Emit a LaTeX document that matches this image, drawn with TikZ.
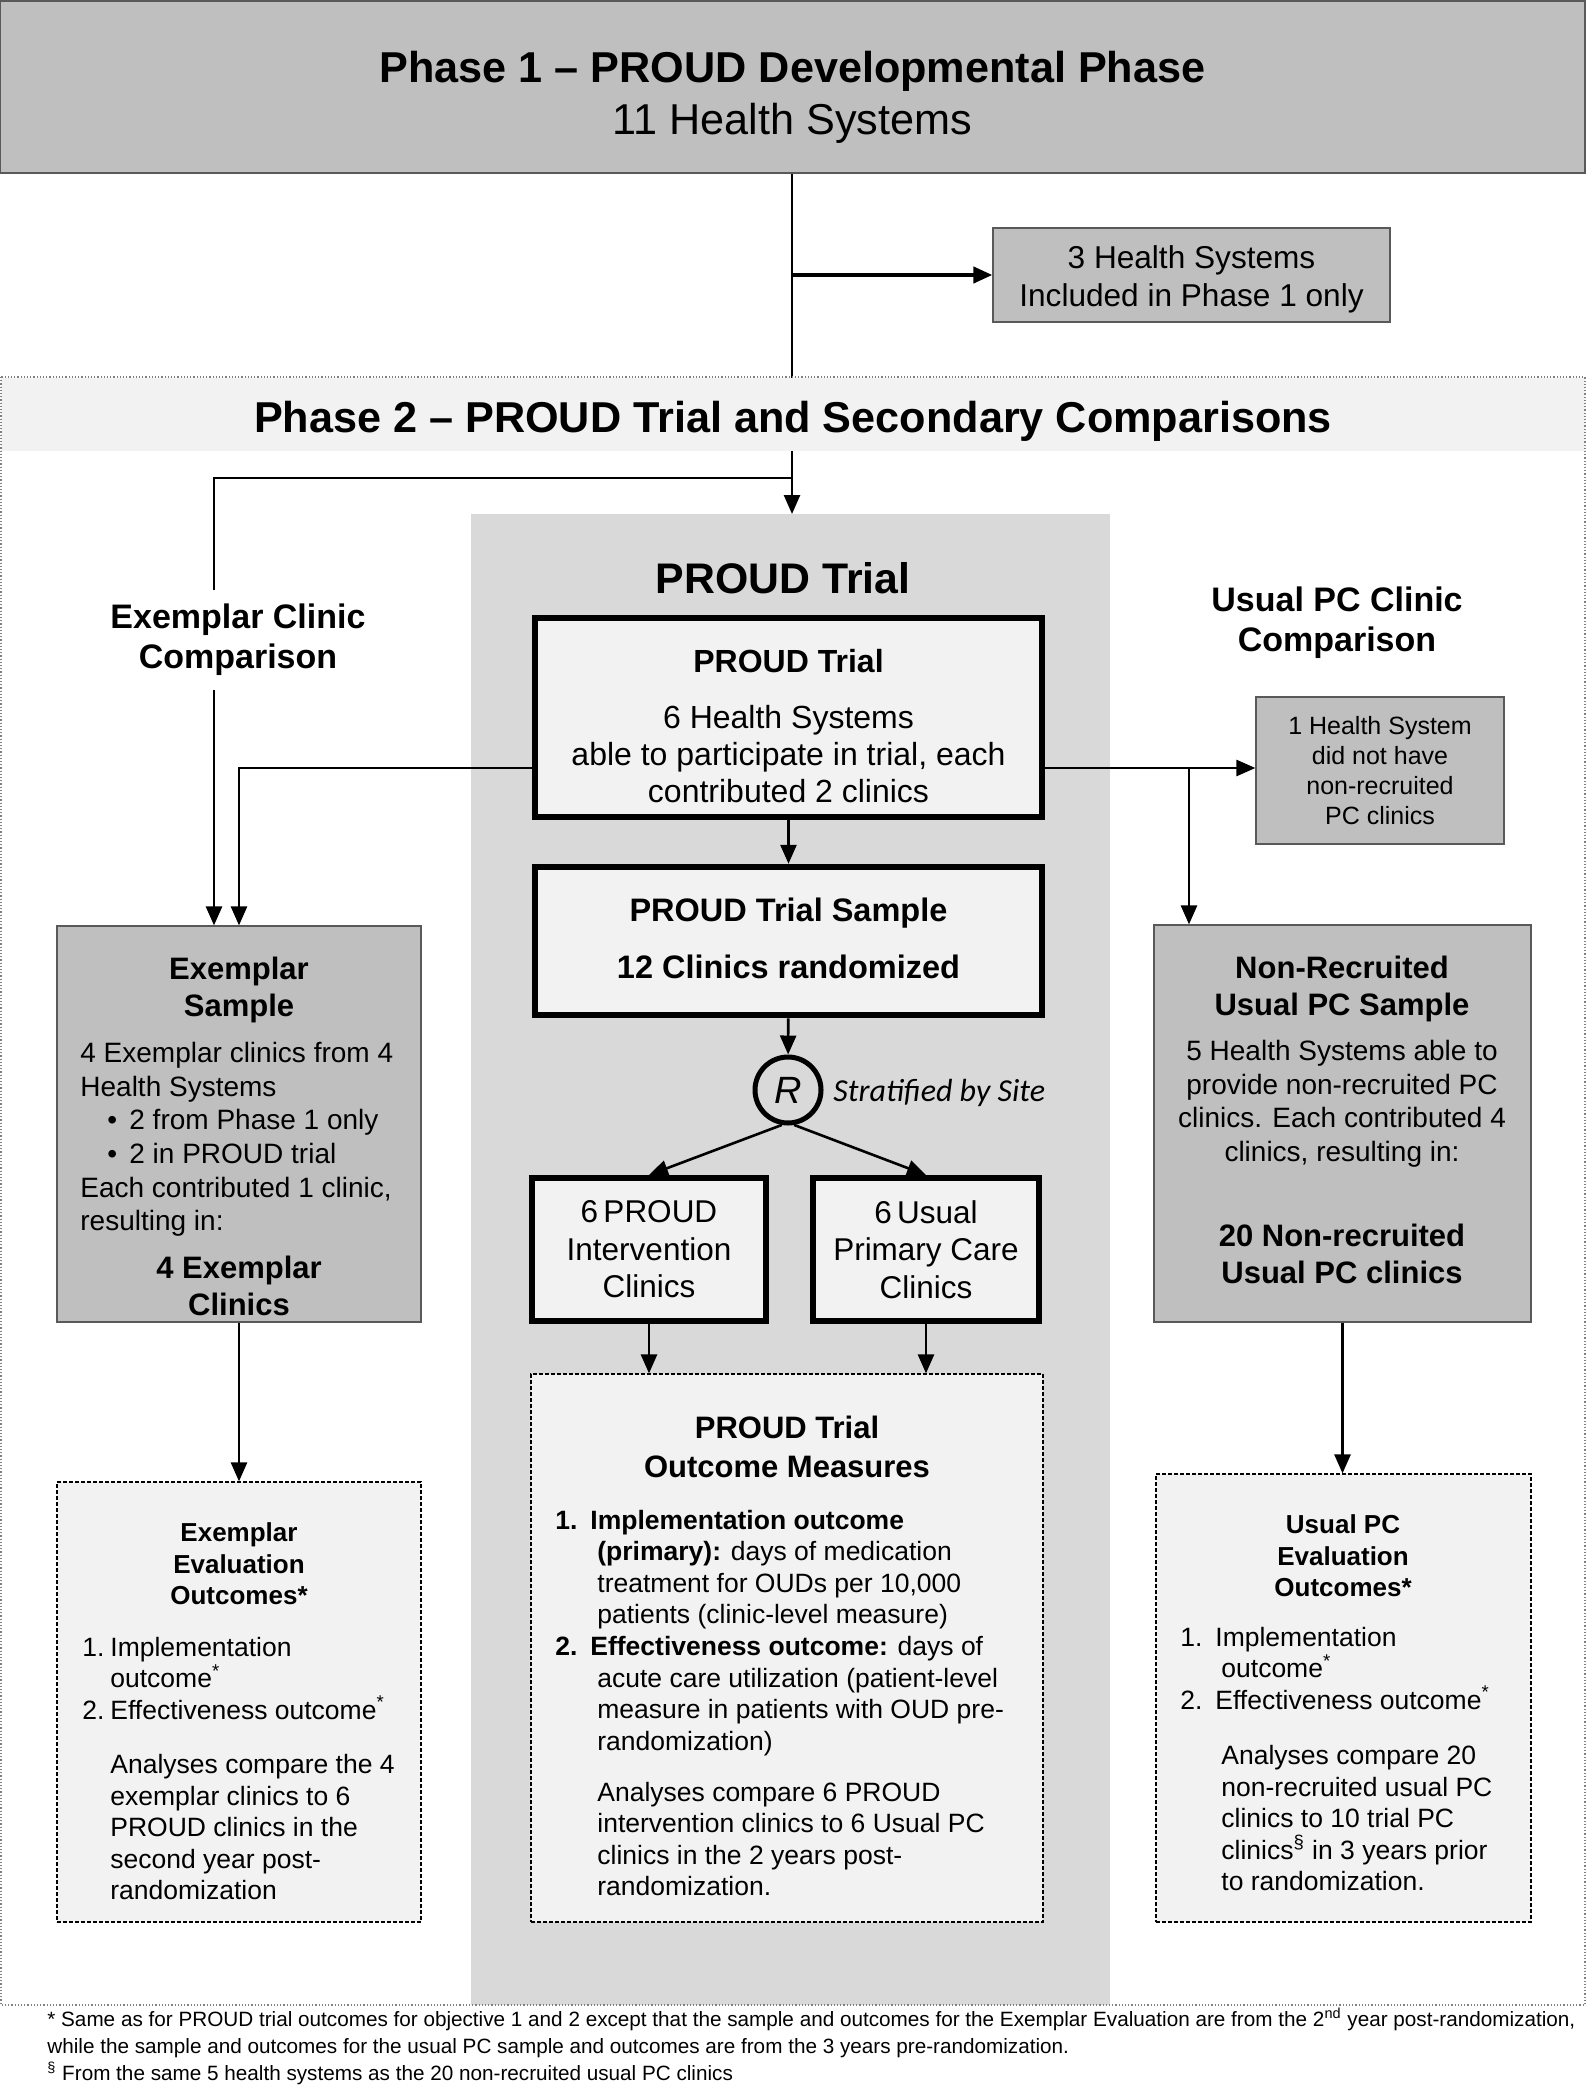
\documentclass[tikz,border=0pt]{standalone}
\usepackage{fontspec}
\setmainfont{Liberation Sans}
\newfontfamily\calibri{Carlito}
\usetikzlibrary{arrows.meta,positioning}
\definecolor{boxgray}{HTML}{BFBFBF}
\definecolor{paper}{HTML}{F2F2F2}
\definecolor{trialgray}{HTML}{D9D9D9}
\definecolor{edgegray}{HTML}{595959}
\newcommand{\fsz}[2]{\fontsize{#1}{#2}\selectfont}

\begin{document}
\begin{tikzpicture}[x=0.5pt,y=-0.5pt,
  conn/.style={line width=1.3pt},
  arr/.style={line width=1.3pt,-{Triangle[length=9.5pt,width=8pt]}},
  graybox/.style={draw=edgegray,line width=0.6pt,fill=boxgray,inner sep=0pt},
  bigbox/.style={draw=black,line width=3pt,fill=paper,inner sep=0pt,align=center},
  outbox/.style={draw=black,line width=0.6pt,dash pattern=on 2pt off 1pt,fill=paper,inner sep=0pt},
  head/.style={font=\bfseries\fsz{17}{20},align=center},
  ttl/.style={font=\bfseries\fsz{15.5}{18.5},align=center,inner sep=0pt,anchor=north},
  body/.style={font=\fsz{14}{16.8},align=center,inner sep=0pt,anchor=north},
  listtxt/.style={font=\fsz{13.25}{15.8},align=left,inner sep=0pt,anchor=north west}]

  \useasboundingbox (0,0) rectangle (1594,2087);
  \fill[white] (0,0) rectangle (1594,2087);

  % phase 1
  \node[graybox,line width=1pt,minimum width=792.5pt,minimum height=85.5pt] (ph1) at (792.5,87) {};
  \node[ttl,font=\fsz{21.6}{26}] (ph1-t) at (792.5,50.5) {\textbf{Phase 1 – PROUD Developmental Phase}\\11 Health Systems};
  \node[graybox,minimum width=198.5pt,minimum height=47pt] (hs3) at (1191.5,275) {};
  \node[ttl,font=\fsz{15.8}{19}] (hs3-t) at (1191.5,245.5) {3 Health Systems\\Included in Phase 1 only};

  % phase 2 frame
  \fill[trialgray] (471,514) rectangle (1110,2005);
  \coordinate (trialtop) at (792,514);
  \draw[arr] (ph1.south -| trialtop) -- (trialtop);
  \draw[arr,line width=2pt] (trialtop |- hs3.west) -- (hs3.west);
  \node[fill=paper,minimum width=792pt,minimum height=36.5pt,inner sep=0pt] (ph2) at (793,414) {};
  \node[anchor=base,inner sep=0pt,font=\bfseries\fsz{21.6}{26}] (ph2-t) at (793,432) {Phase 2 – PROUD Trial and Secondary Comparisons};
  \draw[gray,densely dotted,line width=0.6pt] (1,377) rectangle (1585,2005);
  \node[font=\bfseries\fsz{21.4}{26}] (ptt) at (783,578) {PROUD Trial};

  % trial column
  \node[bigbox,minimum width=253.5pt,minimum height=99.5pt] (ptb) at (788.5,717.5) {};
  \node[ttl,font=\fsz{16}{18.5}] (ptb-t) at (788.5,649) {\textbf{PROUD Trial}\\[9.5pt]6 Health Systems\\able to participate in trial, each\\contributed 2 clinics};
  \node[bigbox,minimum width=253.5pt,minimum height=74.25pt] (psb) at (788.5,941) {};
  \node[ttl,font=\bfseries\fsz{16.25}{19}] (psb-t) at (788.5,897.5) {PROUD Trial Sample\\[9.5pt]12 Clinics randomized};
  \node[circle,draw,line width=2.5pt,minimum size=33pt,inner sep=0pt,font=\itshape\fsz{19}{22}] (rc) at (788,1090) {R};
  \node[anchor=west,inner sep=0pt,font=\calibri\itshape\fsz{16}{18}] (strat) at (833,1093) {Stratified by Site};
  \node[bigbox,minimum width=116.75pt,minimum height=71.5pt,font=\fsz{15.75}{18.75}] (pic) at (649,1249.5) {6\,PROUD\\Intervention\\Clinics};
  \node[bigbox,minimum width=113pt,minimum height=71.5pt,font=\fsz{15.75}{18.75}] (uc) at (926,1249.5) {6\,Usual\\Primary Care\\Clinics};
  \node[outbox,minimum width=256pt,minimum height=274pt] (mo) at (787,1648) {};
  \node[ttl,font=\bfseries\fsz{15.5}{19.5}] (mo-t) at (787,1416) {PROUD Trial\\Outcome Measures};
  \node[listtxt] (mo-l) at (555,1509.5) {\makebox[17.5pt][l]{\textbf{1.}}\textbf{Implementation outcome}\\
    \hspace*{21pt}\textbf{(primary):} days of medication\\
    \hspace*{21pt}treatment for OUDs per 10,000\\
    \hspace*{21pt}patients (clinic-level measure)\\
    \makebox[17.5pt][l]{\textbf{2.}}\textbf{Effectiveness outcome:} days of\\
    \hspace*{21pt}acute care utilization (patient-level\\
    \hspace*{21pt}measure in patients with OUD pre-\\
    \hspace*{21pt}randomization)\\[9.6pt]
    \hspace*{21pt}Analyses compare 6 PROUD\\
    \hspace*{21pt}intervention clinics to 6 Usual PC\\
    \hspace*{21pt}clinics in the 2 years post-\\
    \hspace*{21pt}randomization.};

  \draw[arr] (ptb) -- (psb);
  \draw[arr] (psb) -- (rc);
  \draw[arr] (rc.-100) -- (pic.north);
  \draw[arr] (rc.-80) -- (uc.north);
  \draw[arr] (pic) -- (pic |- mo.north);
  \draw[arr] (uc) -- (uc |- mo.north);

  % exemplar column
  \node[head,inner sep=7pt] (exc) at (238,640) {Exemplar Clinic\\Comparison};
  \node[graybox,minimum width=182pt,minimum height=198pt] (exs) at (239,1124) {};
  \node[ttl] (exs-t) at (239,957) {Exemplar\\Sample};
  \node[body,anchor=north west,align=left] (exs-b) at (80,1042) {4 Exemplar clinics from 4\\
    Health Systems\\
    \hspace*{13.5pt}\makebox[11pt][l]{•}2 from Phase 1 only\\
    \hspace*{13.5pt}\makebox[11pt][l]{•}2 in PROUD trial\\
    Each contributed 1 clinic,\\
    resulting in:};
  \node[ttl] (exs-r) at (239,1256) {4 Exemplar\\Clinics};
  \node[outbox,minimum width=182pt,minimum height=220pt] (eo) at (239,1702) {};
  \node[ttl,font=\bfseries\fsz{13}{15.75}] (eo-t) at (239,1522.5) {Exemplar\\Evaluation\\Outcomes*};
  \node[listtxt] (eo-l) at (82,1636.5) {\makebox[14pt][l]{1.}Implementation\\
    \hspace*{14pt}outcome\textsuperscript{*}\\
    \makebox[14pt][l]{2.}Effectiveness outcome\textsuperscript{*}\\[11.25pt]
    \hspace*{14pt}Analyses compare the 4\\
    \hspace*{14pt}exemplar clinics to 6\\
    \hspace*{14pt}PROUD clinics in the\\
    \hspace*{14pt}second year post-\\
    \hspace*{14pt}randomization};

  \coordinate (jl) at (214,478);
  \draw[conn] (trialtop |- jl) -- (jl) -- (jl |- exc.north);
  \draw[arr] (jl |- exc.south) -- (jl |- exs.north);
  \coordinate (jm) at (239,768);
  \draw[arr] (ptb.west |- jm) -- (jm) -- (exs.north);
  \draw[arr] (exs) -- (eo);

  % usual PC column
  \node[head] (upc) at (1337,623) {Usual PC Clinic\\Comparison};
  \node[graybox,minimum width=124pt,minimum height=73.5pt,align=center,font=\fsz{12.5}{15}] (hs1) at (1380,770.5) {1 Health System\\did not have\\non-recruited\\PC clinics};
  \node[graybox,minimum width=188.5pt,minimum height=198.5pt] (nrs) at (1342.5,1123.5) {};
  \node[ttl] (nrs-t) at (1342,956) {Non-Recruited\\Usual PC Sample};
  \node[body] (nrs-b) at (1342,1040) {5 Health Systems able to\\provide non-recruited PC\\clinics. Each contributed 4\\clinics, resulting in:};
  \node[ttl] (nrs-r) at (1342,1224) {20 Non-recruited\\Usual PC clinics};
  \node[outbox,minimum width=187.5pt,minimum height=224pt] (uo) at (1343.5,1698) {};
  \node[ttl,font=\bfseries\fsz{13}{15.75}] (uo-t) at (1343,1514.5) {Usual PC\\Evaluation\\Outcomes*};
  \node[listtxt] (uo-l) at (1180,1626.5) {\makebox[17.5pt][l]{1.}Implementation\\
    \hspace*{20.5pt}outcome\textsuperscript{*}\\
    \makebox[17.5pt][l]{2.}Effectiveness outcome\textsuperscript{*}\\[11.75pt]
    \hspace*{20.5pt}Analyses compare 20\\
    \hspace*{20.5pt}non-recruited usual PC\\
    \hspace*{20.5pt}clinics to 10 trial PC\\
    \hspace*{20.5pt}clinics\textsuperscript{§} in 3 years prior\\
    \hspace*{20.5pt}to randomization.};

  \coordinate (jr) at (1189,768);
  \draw[arr] (ptb.east |- jr) -- (hs1.west |- jr);
  \draw[arr] (jr) -- (jr |- nrs.north);
  \draw[arr] (nrs) -- (nrs |- uo.north);

  % footnotes
  \node[anchor=north west,inner sep=0pt,align=left,font=\fsz{10.35}{13.5}] (fn) at (47,2008) {* Same as for PROUD trial outcomes for objective 1 and 2 except that the sample and outcomes for the Exemplar Evaluation are from the 2\textsuperscript{nd} year post-randomization,\\
    while the sample and outcomes for the usual PC sample and outcomes are from the 3 years pre-randomization.\\
    \textsuperscript{§} From the same 5 health systems as the 20 non-recruited usual PC clinics};
\end{tikzpicture}
\end{document}
